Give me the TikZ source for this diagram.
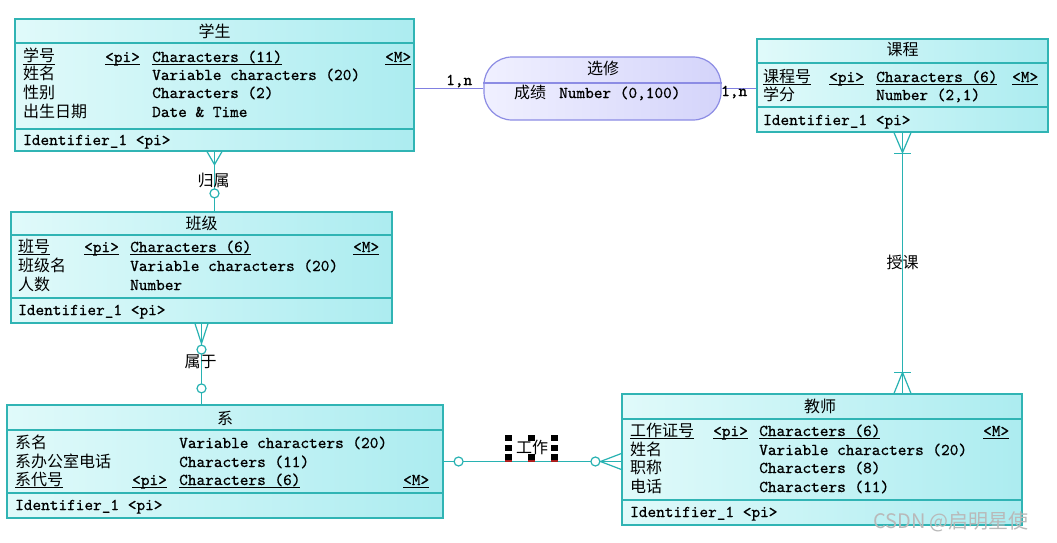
\documentclass[tikz,border=0pt]{standalone}
\usepackage{fontspec}
\newfontfamily\cjk{Noto Sans CJK SC}
\newfontfamily\mono{lmmono10-regular.otf}[FakeBold=0.7]
\usetikzlibrary{calc}
\definecolor{entB}{RGB}{48,180,180}
\definecolor{entL}{RGB}{224,250,250}
\definecolor{entR}{RGB}{172,236,240}
\definecolor{relB}{RGB}{140,140,228}
\definecolor{relL}{RGB}{240,240,255}
\definecolor{relR}{RGB}{212,212,250}
\definecolor{connC}{RGB}{40,178,178}
\definecolor{pconnC}{RGB}{128,128,225}
\definecolor{wmC}{RGB}{185,185,185}
\definecolor{handleRed}{RGB}{170,30,30}
\newlength\colA \newlength\colB \newlength\colC
\newcommand\ulx[1]{\setbox0\hbox{#1}\rlap{\vrule height -1.6pt depth 2.6pt width \wd0}\box0}
\newcommand\cj[1]{{\cjk\fontsize{16}{16}\selectfont #1}}
\newcommand\erow[4]{\makebox[\colA][l]{#1}\makebox[\colB][l]{#2}\makebox[\colC][l]{#3}#4}
\newcommand\setcols[3]{\setlength\colA{#1pt}\setlength\colB{#2pt}\setlength\colC{#3pt}}
\begin{document}
\begin{tikzpicture}[x=1pt,y=-1pt,
  entity/.style={draw=entB, line width=1.2pt, left color=entL, right color=entR, inner sep=0pt},
  relbox/.style={draw=relB, line width=1.2pt, left color=relL, right color=relR, inner sep=0pt, rounded corners=28pt},
  esep/.style={draw=entB, line width=1.2pt},
  rsep/.style={draw=relB, line width=1.2pt},
  row/.style={anchor=base west, inner sep=0pt, font=\mono\fontsize{16.5}{18}\selectfont},
  etitle/.style={inner sep=0pt, font=\cjk\fontsize{16}{16}\selectfont},
  lab/.style={inner sep=0pt, font=\cjk\fontsize{16}{16}\selectfont},
  cline/.style={draw=connC, line width=1.2pt},
  pline/.style={draw=pconnC, line width=1.2pt},
  ring/.style={draw=connC, line width=1.2pt, fill=white},
  handle/.style={fill=black}
]
\useasboundingbox (0,0) rectangle (1057,543);
\fill[white] (0,0) rectangle (1057,543);

% ---------- entities ----------
\node[entity, minimum width=399pt, minimum height=132pt] (stu) at (214.5,85) {};
\node[entity, minimum width=291pt, minimum height=93pt] (crs) at (902.5,85.5) {};
\node[entity, minimum width=381pt, minimum height=111pt] (cls) at (201.5,267.5) {};
\node[entity, minimum width=436pt, minimum height=113pt] (dept) at (225,461.5) {};
\node[entity, minimum width=400pt, minimum height=131pt] (tch) at (822,459.5) {};
\node[relbox, minimum width=237pt, minimum height=63pt] (xx) at (602.5,88.5) {};

% separators
\draw[esep] (stu.west |- 0,43) -- (stu.east |- 0,43);
\draw[esep] (stu.west |- 0,129) -- (stu.east |- 0,129);
\draw[esep] (crs.west |- 0,63) -- (crs.east |- 0,63);
\draw[esep] (crs.west |- 0,107) -- (crs.east |- 0,107);
\draw[esep] (cls.west |- 0,235) -- (cls.east |- 0,235);
\draw[esep] (cls.west |- 0,298) -- (cls.east |- 0,298);
\draw[esep] (dept.west |- 0,430) -- (dept.east |- 0,430);
\draw[esep] (dept.west |- 0,493) -- (dept.east |- 0,493);
\draw[esep] (tch.west |- 0,419) -- (tch.east |- 0,419);
\draw[esep] (tch.west |- 0,500) -- (tch.east |- 0,500);
\draw[rsep] (xx.west |- 0,83) -- (xx.east |- 0,83);

% ---------- 学生 ----------
\node[etitle] (stu-t) at (214.5,31) {学生};
\setcols{82}{47}{233}
\node[row] (stu-1) at (23,62) {\erow{\ulx{\cj{学号}}}{\ulx{<pi>}}{\ulx{Characters (11)}}{\ulx{<M>}}};
\node[row] (stu-2) at (23,80) {\erow{\cj{姓名}}{}{Variable characters (20)}{}};
\node[row] (stu-3) at (23,98) {\erow{\cj{性别}}{}{Characters (2)}{}};
\node[row] (stu-4) at (23,117) {\erow{\cj{出生日期}}{}{Date \& Time}{}};
\node[row] (stu-i) at (23,145) {Identifier\_1 <pi>};

% ---------- 课程 ----------
\node[etitle] (crs-t) at (902.5,50) {课程};
\setcols{66}{47}{136}
\node[row] (crs-1) at (763,82) {\erow{\ulx{\cj{课程号}}}{\ulx{<pi>}}{\ulx{Characters (6)}}{\ulx{<M>}}};
\node[row] (crs-2) at (763,100) {\erow{\cj{学分}}{}{Number (2,1)}{}};
\node[row] (crs-i) at (763,125) {Identifier\_1 <pi>};

% ---------- 班级 ----------
\node[etitle] (cls-t) at (201.5,223) {班级};
\setcols{66}{46}{223}
\node[row] (cls-1) at (18,252) {\erow{\ulx{\cj{班号}}}{\ulx{<pi>}}{\ulx{Characters (6)}}{\ulx{<M>}}};
\node[row] (cls-2) at (18,271) {\erow{\cj{班级名}}{}{Variable characters (20)}{}};
\node[row] (cls-3) at (18,290) {\erow{\cj{人数}}{}{Number}{}};
\node[row] (cls-i) at (18,315) {Identifier\_1 <pi>};

% ---------- 系 ----------
\node[etitle] (dept-t) at (225,418) {系};
\setcols{117}{47}{224}
\node[row] (dept-1) at (15,448) {\erow{\cj{系名}}{}{Variable characters (20)}{}};
\node[row] (dept-2) at (15,467) {\erow{\cj{系办公室电话}}{}{Characters (11)}{}};
\node[row] (dept-3) at (15,485) {\erow{\ulx{\cj{系代号}}}{\ulx{<pi>}}{\ulx{Characters (6)}}{\ulx{<M>}}};
\node[row] (dept-i) at (15,510) {Identifier\_1 <pi>};

% ---------- 教师 ----------
\node[etitle] (tch-t) at (820,406) {教师};
\setcols{83}{46}{224}
\node[row] (tch-1) at (630,436) {\erow{\ulx{\cj{工作证号}}}{\ulx{<pi>}}{\ulx{Characters (6)}}{\ulx{<M>}}};
\node[row] (tch-2) at (630,455) {\erow{\cj{姓名}}{}{Variable characters (20)}{}};
\node[row] (tch-3) at (630,473) {\erow{\cj{职称}}{}{Characters (8)}{}};
\node[row] (tch-4) at (630,492) {\erow{\cj{电话}}{}{Characters (11)}{}};
\node[row] (tch-i) at (630,517) {Identifier\_1 <pi>};

% ---------- 选修 ----------
\node[etitle] (xx-t) at (603,68) {选修};
\node[row] (xx-1) at (514,98) {\cj{成绩}\hspace{13pt}Number (0,100)};

% ---------- association lines ----------
\draw[pline] (xx.west) -- (xx.west -| stu.east);
\draw[pline] (xx.east) -- (xx.east -| crs.west);
\node[row] (n-l) at (446,85) {1,n};
\node[row] (n-r) at (721,96) {1,n};

% ---------- 学生 - 班级 ----------
\coordinate (a1) at (stu.south |- cls.north);
\draw[cline] (stu.south) -- (a1);
\draw[cline] ($(stu.south)+(-7.5,0)$) -- ($(stu.south)+(0,13)$) -- ($(stu.south)+(7.5,0)$);
\draw[ring] ($(a1)+(0,-18)$) circle[radius=4.5pt];
\node[lab] (l-gs) at ($(stu.south)+(-1,29)$) {归属};

% ---------- 班级 - 系 ----------
\coordinate (b1) at (cls.south |- dept.north);
\draw[cline] (cls.south) -- (b1);
\draw[cline] ($(cls.south)+(-6.5,0)$) -- ($(cls.south)+(0,20)$) -- ($(cls.south)+(6.5,0)$);
\draw[ring] ($(cls.south)+(0,26)$) circle[radius=4.5pt];
\draw[ring] ($(b1)+(0,-16)$) circle[radius=4.5pt];
\node[lab] (l-sy) at ($(cls.south)+(-1,38)$) {属于};

% ---------- 系 - 教师 ----------
\coordinate (c1) at (dept.east -| tch.west);
\draw[cline] (dept.east) -- (c1);
\draw[cline] ($(c1)+(0,-8)$) -- ($(c1)+(-21,0)$) -- ($(c1)+(0,8)$);
\draw[ring] ($(dept.east)+(15,0)$) circle[radius=4.5pt];
\draw[ring] ($(c1)+(-26,0)$) circle[radius=4.5pt];
\node[lab] (l-gz) at (532,447) {工作};
% selection handles around the label
\foreach \hx/\hy in {508/438,508/448,508/457,531/438,531/457,554/438,554/448,554/457}
  \fill[handle] (\hx-3.5,\hy-3) rectangle (\hx+3.5,\hy+3);
\foreach \hx in {508,531,554}
  \fill[handleRed] (\hx-3.5,460) rectangle (\hx+3.5,461.5);

% ---------- 课程 - 教师 ----------
\coordinate (d1) at (crs.south |- tch.north);
\draw[cline] (crs.south) -- (d1);
\draw[cline] ($(crs.south)+(-8.5,0)$) -- ($(crs.south)+(0,20)$) -- ($(crs.south)+(8.5,0)$);
\draw[cline] ($(crs.south)+(-8.5,21)$) -- ($(crs.south)+(8.5,21)$);
\draw[cline] ($(d1)+(-8.5,0)$) -- ($(d1)+(0,-21)$) -- ($(d1)+(8.5,0)$);
\draw[cline] ($(d1)+(-8.5,-21)$) -- ($(d1)+(8.5,-21)$);
\node[lab] (l-sk) at (902.5,262) {授课};

% ---------- watermark ----------
\node[inner sep=0pt, font=\cjk\fontsize{20}{20}\selectfont, text=wmC] (wmk) at (951,522) {CSDN @启明星使};
\end{tikzpicture}
\end{document}
